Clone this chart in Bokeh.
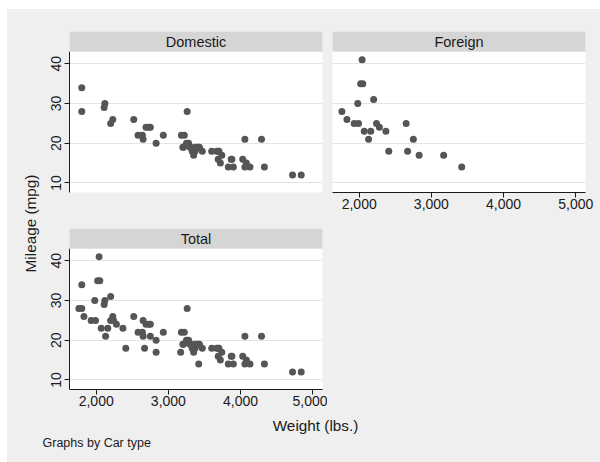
from math import pi
from bokeh.plotting import figure
from bokeh.layouts import row, column
from bokeh.models import Range1d, FixedTicker, NumeralTickFormatter, BoxAnnotation, Label, Spacer
from bokeh.embed import file_html
from bokeh.resources import INLINE
from bokeh.core.validation import silence
from bokeh.core.validation.warnings import MISSING_RENDERERS

silence(MISSING_RENDERERS, True)

# ---------------- data (Stata auto: weight vs mpg, by car type) ----------------
dom_weight = [2930, 3350, 2640, 3250, 4080, 3670, 2230, 3280, 3880, 3400, 4330, 3900, 4290,
              2110, 3690, 3180, 3220, 2750, 3430, 2120, 3600, 3870, 3740, 1800, 2650, 4840,
              4720, 3830, 2580, 4060, 3720, 3370, 4130, 2830, 4060, 3310, 3300, 3690, 3370,
              2730, 4030, 3260, 1800, 2200, 2520, 3330, 3700, 3470, 3210, 3200, 3420, 2690]
dom_mpg = [22, 17, 22, 20, 15, 18, 26, 20, 16, 19, 14, 14, 21,
           29, 16, 22, 22, 24, 19, 30, 18, 16, 17, 28, 21, 12,
           12, 14, 22, 14, 15, 18, 14, 20, 21, 19, 19, 18, 19,
           24, 16, 28, 34, 25, 26, 18, 18, 18, 19, 19, 19, 24]
for_weight = [2830, 2070, 2650, 2370, 2020, 2280, 2750, 2130, 2240, 1760, 1980,
              3420, 1830, 2050, 2410, 2200, 2670, 2160, 2040, 1930, 1990, 3170]
for_mpg = [17, 23, 25, 23, 35, 24, 21, 21, 25, 28, 30,
           14, 26, 35, 18, 31, 18, 23, 41, 25, 25, 17]
tot_weight = dom_weight + for_weight
tot_mpg = dom_mpg + for_mpg

panel_titles = ["Domestic", "Foreign", "Total"]
x_ticks = [2000, 3000, 4000, 5000]
y_ticks = [10, 20, 30, 40]
x_title = "Weight (lbs.)"
y_title = "Mileage (mpg)"
note = "Graphs by Car type"

# ---------------- style ----------------
BG = "#EFEFEF"
STRIP = "#D5D5D5"
MARK = "#555555"
INK = "#1a1a1a"
FONT = "Liberation Sans"

X0, X1 = 1630, 5135
Y0, Y1 = 7.6, 43.1
PLOT_H = 141
STRIP_H = 20
Y_TOP = Y1 + (Y1 - Y0) * STRIP_H / PLOT_H


def panel(title, xs, ys, width, height, mbl, mbr, mbt, mbb, show_x, show_y):
    p = figure(width=width, height=height,
               x_range=Range1d(X0, X1), y_range=Range1d(Y0, Y_TOP),
               x_axis_location="below" if show_x else None,
               y_axis_location="left" if show_y else None,
               min_border_left=mbl, min_border_right=mbr,
               min_border_top=mbt, min_border_bottom=mbb,
               output_backend="svg", toolbar_location=None)
    p.border_fill_color = BG
    p.background_fill_color = "white"
    p.outline_line_color = None
    p.xgrid.visible = False
    p.ygrid.ticker = FixedTicker(ticks=y_ticks)
    p.ygrid.grid_line_color = "#E4E4E4"
    p.ygrid.grid_line_width = 1
    for ax in p.axis:
        ax.axis_line_color = INK
        ax.axis_line_width = 1
        ax.major_tick_line_color = INK
        ax.major_tick_out = 5
        ax.major_tick_in = 0
        ax.minor_tick_line_color = None
        ax.major_label_text_font = FONT
        ax.major_label_text_font_size = "14px"
        ax.major_label_text_color = INK
    if show_x:
        p.xaxis.ticker = FixedTicker(ticks=x_ticks)
        p.xaxis.formatter = NumeralTickFormatter(format="0,0")
        p.xaxis.major_label_standoff = 1
    if show_y:
        p.yaxis.ticker = FixedTicker(ticks=y_ticks)
        p.yaxis.bounds = (Y0, Y1)
        p.yaxis.major_label_orientation = "vertical"
        p.yaxis.major_label_standoff = 3
    p.scatter(xs, ys, size=7, fill_color=MARK, line_color=None)
    p.add_layout(BoxAnnotation(left=X0, right=X1, bottom=Y1, top=Y_TOP,
                               fill_color=STRIP, fill_alpha=1.0,
                               line_color="#DEE3E8", line_alpha=1.0,
                               line_width=1, line_dash="solid"))
    p.add_layout(Label(x=(X0 + X1) / 2, y=(Y1 + Y_TOP) / 2, text=title,
                       text_align="center", text_baseline="middle",
                       text_font=FONT, text_font_size="14.5px", text_color=INK))
    return p


def blank(width, height):
    b = figure(width=width, height=height,
               x_range=Range1d(0, width), y_range=Range1d(height, 0),
               x_axis_location=None, y_axis_location=None, min_border=0,
               output_backend="svg", toolbar_location=None)
    b.border_fill_color = BG
    b.background_fill_color = BG
    b.outline_line_color = None
    b.grid.visible = False
    return b


pa = panel(panel_titles[0], dom_weight, dom_mpg, 287, 211, 29, 5, 22, 28, False, True)
pb = panel(panel_titles[1], for_weight, for_mpg, 273, 211, 5, 15, 22, 28, True, False)
pc = panel(panel_titles[2], tot_weight, tot_mpg, 287, 194, 29, 5, 8, 25, True, True)
pd = blank(273, 194)

left = blank(33, 405)
left.add_layout(Label(x=23, y=214, text=y_title, angle=pi / 2,
                      text_align="center", text_baseline="middle",
                      text_font=FONT, text_font_size="15.3px", text_color=INK))

bottom = blank(593, 48)
bottom.add_layout(Label(x=308, y=11, text=x_title,
                        text_align="center", text_baseline="middle",
                        text_font=FONT, text_font_size="15.3px", text_color=INK))
bottom.add_layout(Label(x=35, y=28, text=note,
                        text_align="left", text_baseline="middle",
                        text_font=FONT, text_font_size="12.5px", text_color=INK))

gray = {"background-color": BG}
r1 = row(pa, pb, styles=gray)
r2 = row(pc, pd, styles=gray)
right = column(r1, r2, styles=gray)
upper = row(left, right, styles=gray)
inner = column(upper, bottom, styles=gray)
page = column(Spacer(height=9), row(Spacer(width=7), inner))

open("out.html", "w").write(file_html(page, INLINE))
